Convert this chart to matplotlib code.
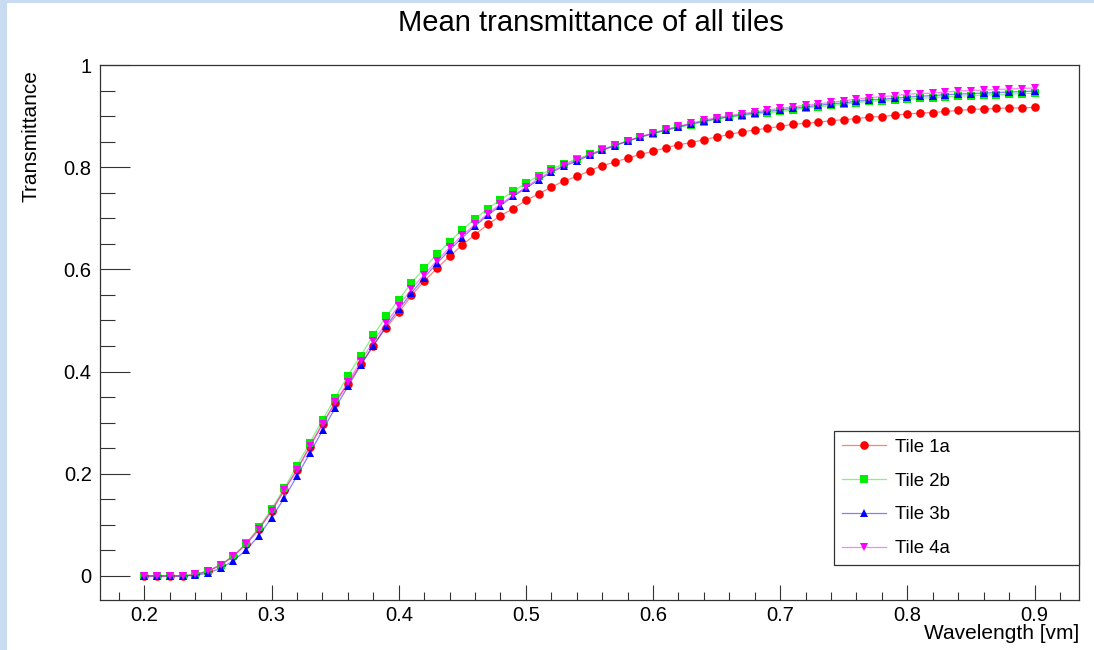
import matplotlib
matplotlib.use("Agg")
import matplotlib.pyplot as plt
from matplotlib.patches import Rectangle
from matplotlib.ticker import MultipleLocator

plt.rcParams['font.family'] = ['Liberation Sans', 'DejaVu Sans']

# wavelength grid
wavelength = [0.20, 0.21, 0.22, 0.23, 0.24, 0.25, 0.26, 0.27, 0.28, 0.29,
              0.30, 0.31, 0.32, 0.33, 0.34, 0.35, 0.36, 0.37, 0.38, 0.39,
              0.40, 0.41, 0.42, 0.43, 0.44, 0.45, 0.46, 0.47, 0.48, 0.49,
              0.50, 0.51, 0.52, 0.53, 0.54, 0.55, 0.56, 0.57, 0.58, 0.59,
              0.60, 0.61, 0.62, 0.63, 0.64, 0.65, 0.66, 0.67, 0.68, 0.69,
              0.70, 0.71, 0.72, 0.73, 0.74, 0.75, 0.76, 0.77, 0.78, 0.79,
              0.80, 0.81, 0.82, 0.83, 0.84, 0.85, 0.86, 0.87, 0.88, 0.89,
              0.90]

tile_1a = [0.000, 0.000, 0.000, 0.000, 0.003, 0.009, 0.021, 0.039, 0.062, 0.091,
           0.127, 0.168, 0.208, 0.253, 0.297, 0.339, 0.376, 0.414, 0.451, 0.486,
           0.516, 0.549, 0.577, 0.602, 0.626, 0.648, 0.668, 0.688, 0.705, 0.719,
           0.735, 0.748, 0.761, 0.773, 0.782, 0.793, 0.803, 0.810, 0.818, 0.825,
           0.831, 0.838, 0.844, 0.848, 0.854, 0.859, 0.864, 0.869, 0.873, 0.876,
           0.880, 0.884, 0.886, 0.888, 0.891, 0.893, 0.895, 0.898, 0.899, 0.902,
           0.904, 0.906, 0.907, 0.909, 0.911, 0.913, 0.914, 0.915, 0.916, 0.916,
           0.917]

tile_2b = [0.000, 0.000, 0.000, 0.000, 0.003, 0.010, 0.022, 0.040, 0.064, 0.095,
           0.131, 0.172, 0.216, 0.261, 0.305, 0.349, 0.392, 0.431, 0.471, 0.508,
           0.541, 0.574, 0.602, 0.630, 0.654, 0.678, 0.699, 0.719, 0.736, 0.753,
           0.769, 0.783, 0.796, 0.807, 0.816, 0.825, 0.835, 0.843, 0.851, 0.859,
           0.865, 0.872, 0.878, 0.883, 0.889, 0.894, 0.898, 0.901, 0.904, 0.906,
           0.909, 0.912, 0.916, 0.918, 0.921, 0.923, 0.926, 0.929, 0.930, 0.932,
           0.933, 0.935, 0.936, 0.938, 0.939, 0.940, 0.941, 0.942, 0.943, 0.944,
           0.945]

tile_3b = [0.000, 0.000, 0.000, 0.000, 0.001, 0.006, 0.015, 0.030, 0.051, 0.079,
           0.114, 0.153, 0.196, 0.240, 0.285, 0.329, 0.371, 0.412, 0.451, 0.489,
           0.522, 0.554, 0.584, 0.612, 0.638, 0.662, 0.685, 0.706, 0.725, 0.743,
           0.759, 0.775, 0.790, 0.802, 0.812, 0.823, 0.833, 0.842, 0.851, 0.859,
           0.866, 0.873, 0.879, 0.885, 0.890, 0.895, 0.899, 0.903, 0.906, 0.909,
           0.912, 0.915, 0.918, 0.921, 0.924, 0.926, 0.929, 0.932, 0.933, 0.935,
           0.937, 0.939, 0.940, 0.942, 0.943, 0.944, 0.945, 0.946, 0.947, 0.948,
           0.949]

tile_4a = [0.000, 0.000, 0.000, 0.000, 0.003, 0.010, 0.022, 0.039, 0.063, 0.092,
           0.128, 0.169, 0.208, 0.254, 0.298, 0.340, 0.379, 0.420, 0.459, 0.495,
           0.529, 0.562, 0.590, 0.617, 0.643, 0.667, 0.688, 0.709, 0.728, 0.745,
           0.761, 0.778, 0.792, 0.804, 0.814, 0.824, 0.834, 0.843, 0.852, 0.860,
           0.867, 0.874, 0.880, 0.886, 0.892, 0.897, 0.901, 0.905, 0.908, 0.912,
           0.915, 0.918, 0.921, 0.924, 0.927, 0.930, 0.933, 0.936, 0.938, 0.940,
           0.943, 0.944, 0.945, 0.947, 0.949, 0.950, 0.951, 0.952, 0.953, 0.954,
           0.955]

series_labels = ["Tile 1a", "Tile 2b", "Tile 3b", "Tile 4a"]
x_ticks = [0.2, 0.3, 0.4, 0.5, 0.6, 0.7, 0.8, 0.9]
x_tick_labels = ["0.2", "0.3", "0.4", "0.5", "0.6", "0.7", "0.8", "0.9"]
y_ticks = [0, 0.2, 0.4, 0.6, 0.8, 1.0]
y_tick_labels = ["0", "0.2", "0.4", "0.6", "0.8", "1"]

W, H = 1094, 650
fig = plt.figure(figsize=(W / 100, H / 100), dpi=100, facecolor='#c9dbf1')
# white canvas inside the light blue window border
fig.patches.append(Rectangle((7 / W, 0), 1 - 7 / W, 1 - 3 / H,
                             transform=fig.transFigure, facecolor='white',
                             edgecolor='none', zorder=-10))

ax = fig.add_axes([100 / W, 50 / H, 979 / W, 535 / H])

styles = [
    dict(color='#ff0000', marker='o', ms=6.2),
    dict(color='#00ee00', marker='s', ms=5.6),
    dict(color='#0000ff', marker='^', ms=5.8),
    dict(color='#ff00ff', marker='v', ms=5.8),
]
for ys, lab, st in zip([tile_1a, tile_2b, tile_3b, tile_4a], series_labels, styles):
    c = st['color']
    ax.plot(wavelength, ys, color=matplotlib.colors.to_rgba(c, 0.5), lw=0.9,
            marker=st['marker'], ms=st['ms'], mec=c, mfc=c, mew=0, label=lab)

ax.set_xlim(0.165, 0.935)
ax.set_ylim(-0.047, 1.0)

ax.set_xticks(x_ticks)
ax.set_xticklabels(x_tick_labels)
ax.set_yticks(y_ticks)
ax.set_yticklabels(y_tick_labels)
ax.xaxis.set_minor_locator(MultipleLocator(0.02))
ax.yaxis.set_minor_locator(MultipleLocator(0.05))

ax.tick_params(axis='x', which='major', direction='in', length=11, width=0.8,
               labelsize=14.5, pad=4, colors='#333333', labelcolor='black')
ax.tick_params(axis='x', which='minor', direction='in', length=5.8, width=0.8,
               colors='#333333')
ax.tick_params(axis='y', which='major', direction='in', length=21.5, width=0.8,
               labelsize=14.5, pad=6, colors='#333333', labelcolor='black')
ax.tick_params(axis='y', which='minor', direction='in', length=10.8, width=0.8,
               colors='#333333')
for sp in ax.spines.values():
    sp.set_linewidth(0.9)
    sp.set_color('#333333')

ax.set_xlabel("Wavelength [vm]", fontsize=15, loc='right')
ax.xaxis.set_label_coords(1.0, -0.045)
ax.xaxis.label.set_va('top')
ax.set_ylabel("Transmittance", fontsize=15, loc='top')
ax.yaxis.set_label_coords(-0.061, 0.99)

fig.text(0.54, 1 - 23 / H, "Mean transmittance of all tiles", fontsize=21,
         ha='center', va='center')

leg = ax.legend(loc='upper left', mode='expand',
                bbox_to_anchor=(834 / W, 1 - 566 / H, 245 / W, 135 / H),
                bbox_transform=fig.transFigure, fontsize=13.4,
                frameon=True, fancybox=False, framealpha=1, edgecolor='#333333',
                borderpad=0.42, labelspacing=0.9, handlelength=2.35,
                handletextpad=0.5, borderaxespad=0)
leg.get_frame().set_linewidth(0.9)

plt.savefig("out.png", dpi=100, facecolor=fig.get_facecolor())
